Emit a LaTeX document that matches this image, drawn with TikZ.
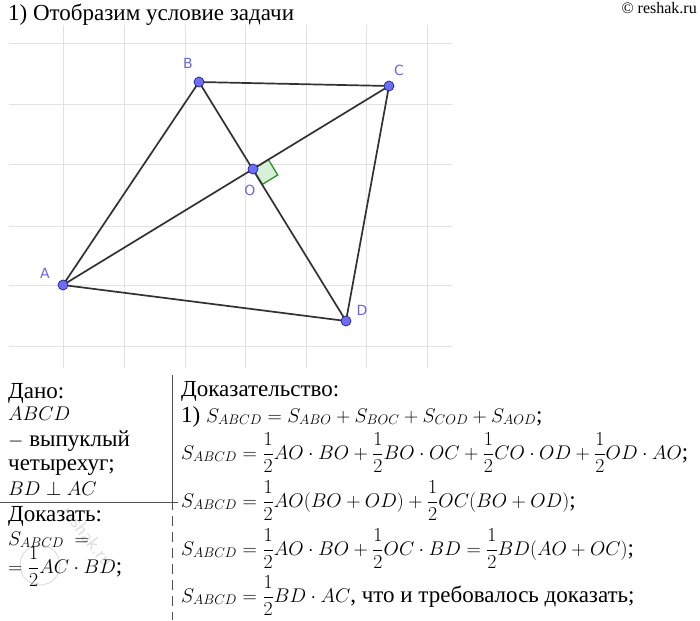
\RequirePackage{fix-cm}
\documentclass[tikz,border=0pt]{standalone}
\usepackage{fontspec}
\setmainfont{Liberation Serif}
\newfontfamily\serifru{Liberation Serif}
\newfontfamily\labelfont{DejaVu Sans}
\usetikzlibrary{calc}
\definecolor{gridc}{RGB}{226,226,226}
\definecolor{ptfill}{RGB}{110,110,245}
\definecolor{ptdraw}{RGB}{35,35,150}
\definecolor{lblc}{RGB}{105,105,220}
\definecolor{segc}{RGB}{50,50,50}
\definecolor{rac}{RGB}{40,145,40}
\definecolor{rafill}{RGB}{215,240,215}
\definecolor{divc}{RGB}{80,80,80}
\definecolor{wmc}{RGB}{222,222,222}
\newcommand\mm[1]{{\fontsize{19.8}{24}\selectfont$\displaystyle #1$}}
\begin{document}
\begin{tikzpicture}[x=1pt,y=-1pt,
  seg/.style={draw=segc,line width=1.7pt},
  pt/.style={circle,fill=ptfill,draw=ptdraw,line width=0.7pt,inner sep=0pt,minimum size=10pt},
  lbl/.style={text=lblc,font=\labelfont\fontsize{14}{16}\selectfont,inner sep=0pt},
  txt/.style={anchor=base west,inner sep=0pt,font=\serifru\fontsize{23}{27}\selectfont},
  gridl/.style={draw=gridc,line width=0.9pt},
  divl/.style={draw=divc,line width=1pt}]
\useasboundingbox (0,0) rectangle (700,620);
\fill[white] (0,0) rectangle (700,620);
% grid
\foreach \x in {63,124,185,245,306,366,427} \draw[gridl] (\x,25) -- (\x,368);
\foreach \y in {43,104,164,226,285,346} \draw[gridl] (9,\y) -- (452,\y);
% points
\coordinate (pA) at (63,285);
\coordinate (pB) at (199,82);
\coordinate (pC) at (389,86);
\coordinate (pD) at (346,321);
\coordinate (pO) at (253,169);
% right angle mark
\coordinate (r1) at ($(pO)!18pt!(pC)$);
\coordinate (r3) at ($(pO)!18pt!(pD)$);
\coordinate (r2) at ($(r1)+(r3)-(pO)$);
\draw[draw=rac,fill=rafill,line width=1.3pt] (pO) -- (r1) -- (r2) -- (r3) -- cycle;
% segments
\draw[seg] (pA) -- (pB) -- (pC) -- (pD) -- cycle;
\draw[seg] (pA) -- (pC);
\draw[seg] (pB) -- (pD);
\node[pt] (nA) at (pA) {};
\node[pt] (nB) at (pB) {};
\node[pt] (nC) at (pC) {};
\node[pt] (nD) at (pD) {};
\node[pt] (nO) at (pO) {};
\node[lbl] (lA) at (45,273) {A};
\node[lbl] (lB) at (188,63) {B};
\node[lbl] (lC) at (399,70) {C};
\node[lbl] (lD) at (362,310) {D};
\node[lbl] (lO) at (250,190) {O};
% title and source
\node[txt] (title) at (8,21) {1) Отобразим условие задачи};
\node[anchor=base east,inner sep=0pt,font=\serifru\fontsize{16}{18}\selectfont] (src) at (697,14) {© reshak.ru};
% watermark
\draw[wmc,line width=1pt] (40,565) circle (20pt);
\node[text=wmc,rotate=-52,font=\sffamily\fontsize{20}{20}\selectfont,inner sep=0pt] (wm) at (88,536) {reshak.ru};
% dividers
\draw[divl] (172,375) -- (172,500);
\draw[divl,dashed,dash pattern=on 10pt off 6pt] (172,500) -- (172,620);
\draw[divl] (0,502) -- (178,502);
% given
\node[txt] (g1) at (8,398) {Дано:};
\node[txt] (g2) at (8,420) {\mm{ABCD}};
\node[txt] (g3) at (8,446) {\mm{-}\ выпуклый};
\node[txt] (g4) at (8,470) {четырехуг;};
\node[txt] (g5) at (8,495) {\mm{BD\perp AC}};
\node[txt] (g6) at (8,521) {Доказать:};
\node[txt] (g7) at (8,545) {\mm{S_{ABCD}\ =}};
\node[txt] (g8) at (8,573) {\mm{=\frac{1}{2}AC\cdot BD};};
% proof
\node[txt] (p1) at (181,396) {Доказательство:};
\node[txt] (p2) at (181,422) {1) \mm{S_{ABCD}=S_{ABO}+S_{BOC}+S_{COD}+S_{AOD}};};
\node[txt] (p3) at (181,459) {\mm{S_{ABCD}=\frac{1}{2}AO\cdot BO+\frac{1}{2}BO\cdot OC+\frac{1}{2}CO\cdot OD+\frac{1}{2}OD\cdot AO};};
\node[txt] (p4) at (181,507) {\mm{S_{ABCD}=\frac{1}{2}AO(BO+OD)+\frac{1}{2}OC(BO+OD)};};
\node[txt] (p5) at (181,555) {\mm{S_{ABCD}=\frac{1}{2}AO\cdot BO+\frac{1}{2}OC\cdot BD=\frac{1}{2}BD(AO+OC)};};
\node[txt] (p6) at (181,602) {\mm{S_{ABCD}=\frac{1}{2}BD\cdot AC}, что и требовалось доказать;};
\end{tikzpicture}
\end{document}
